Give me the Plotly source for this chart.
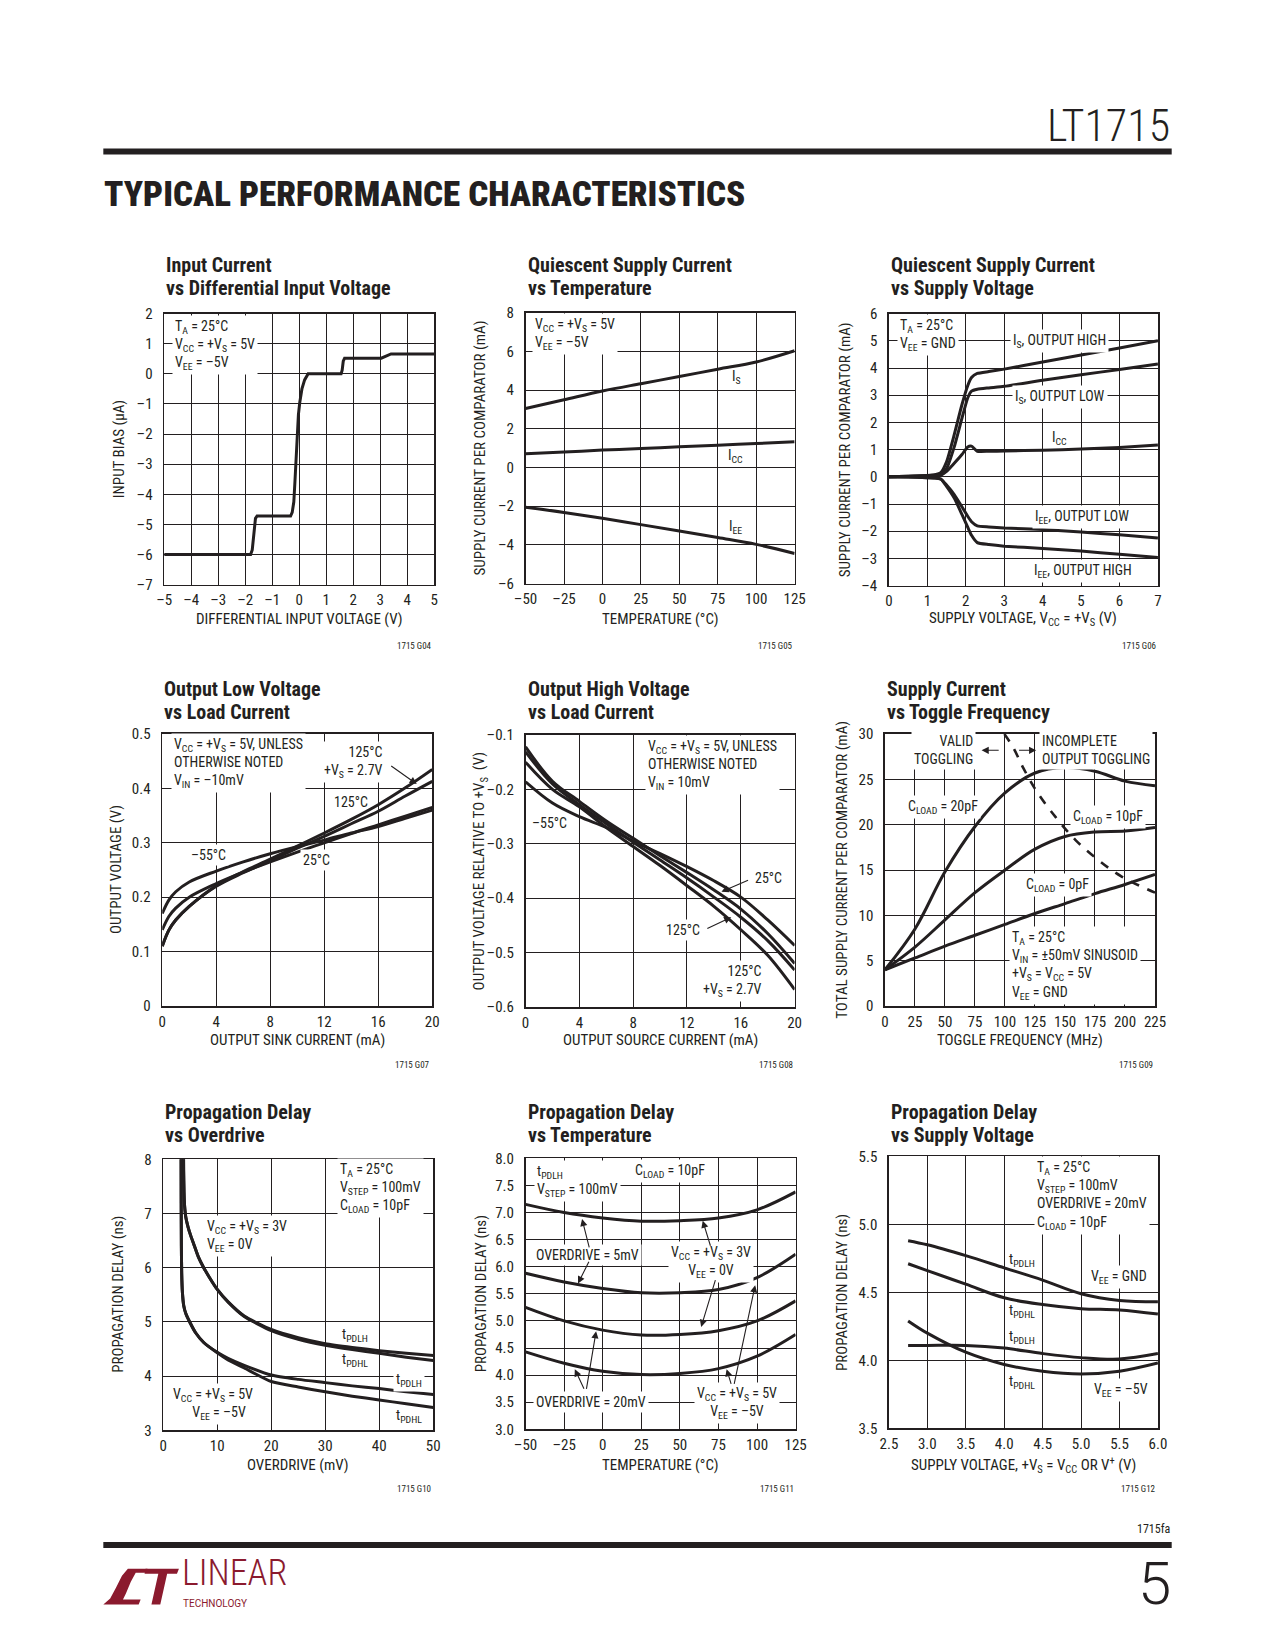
import plotly.graph_objects as go

W, H = 1275, 1650
F = "Roboto Condensed, Liberation Sans Narrow, Arial Narrow, Roboto, sans-serif"
FL = "Roboto, Lato, Liberation Sans, sans-serif"
INK = "#231f20"
RED = "#8b1a2e"

# ---------------- data ----------------
# G04 Input current vs differential input voltage
c1_vdiff = [-5, -1.8, -1.74, -1.68, -1.62, -1.56, -0.32, -0.26, -0.2, -0.16, -0.12, -0.08, -0.03, 0.02, 0.1, 0.2, 0.33,
            1.55, 1.59, 1.63, 1.68, 3.04, 3.2, 3.4, 5]
c1_ibias = [-6.0, -6.0, -5.85, -5.2, -4.8, -4.72, -4.72, -4.6, -4.25, -3.6, -2.8, -2.0, -1.35, -0.95, -0.5, -0.2, 0.0,
            0.0, 0.12, 0.42, 0.52, 0.52, 0.58, 0.66, 0.66]

# G05 Quiescent supply current vs temperature
c2_temp = [-50, -25, 0, 25, 50, 75, 100, 125]
c2_is = [3.05, 3.5, 3.95, 4.33, 4.7, 5.08, 5.45, 6.03]
c2_icc = [0.71, 0.8, 0.9, 0.98, 1.07, 1.15, 1.24, 1.33]
c2_iee = [-2.05, -2.32, -2.62, -2.95, -3.28, -3.62, -3.97, -4.44]

# G06 Quiescent supply current vs supply voltage
c3_vs = [0, 0.5, 1.0, 1.2, 1.35, 1.5, 1.7, 1.9, 2.05, 2.15, 2.3, 2.6, 3, 4, 5, 6, 7]
c3_is_high = [0, 0.02, 0.05, 0.08, 0.15, 0.55, 1.55, 2.65, 3.35, 3.65, 3.8, 3.87, 3.96, 4.22, 4.48, 4.74, 5.0]
c3_is_low = [0, 0.02, 0.05, 0.07, 0.1, 0.3, 1.1, 2.15, 2.9, 3.15, 3.22, 3.27, 3.33, 3.55, 3.75, 3.95, 4.15]
c3_icc = [0, 0.01, 0.03, 0.04, 0.06, 0.2, 0.5, 0.82, 1.1, 1.13, 0.94, 0.94, 0.95, 0.98, 1.02, 1.08, 1.17]
c3_iee_low = [0, -0.01, -0.03, -0.04, -0.08, -0.3, -0.65, -1.1, -1.45, -1.65, -1.8, -1.84, -1.88, -1.94, -2.03, -2.13, -2.25]
c3_iee_high = [0, -0.01, -0.03, -0.04, -0.08, -0.35, -0.78, -1.38, -1.85, -2.15, -2.42, -2.49, -2.55, -2.63, -2.73, -2.85, -2.97]

# G07 Output low voltage vs load current
c4_isink = [0, 0.5, 1, 2, 4, 6, 8, 10, 12, 14, 16, 18, 20]
c4_m55 = [0.17, 0.195, 0.21, 0.228, 0.248, 0.265, 0.28, 0.293, 0.305, 0.318, 0.33, 0.345, 0.36]
c4_25 = [0.14, 0.165, 0.18, 0.2, 0.225, 0.246, 0.265, 0.283, 0.3, 0.317, 0.333, 0.349, 0.365]
c4_125 = [0.11, 0.14, 0.158, 0.183, 0.22, 0.245, 0.267, 0.29, 0.312, 0.335, 0.358, 0.386, 0.413]
c4_125_27 = [0.11, 0.14, 0.158, 0.183, 0.221, 0.247, 0.27, 0.294, 0.318, 0.343, 0.37, 0.401, 0.435]

# G08 Output high voltage vs load current
c5_isrc = [0, 2, 4, 6, 8, 10, 12, 14, 16, 18, 20]
c5_m55 = [-0.186, -0.225, -0.25, -0.27, -0.295, -0.318, -0.342, -0.368, -0.398, -0.44, -0.487]
c5_25 = [-0.122, -0.185, -0.222, -0.258, -0.29, -0.322, -0.353, -0.385, -0.42, -0.465, -0.52]
c5_125 = [-0.131, -0.19, -0.228, -0.263, -0.297, -0.33, -0.363, -0.398, -0.435, -0.478, -0.532]
c5_125_27 = [-0.15, -0.2, -0.232, -0.27, -0.305, -0.34, -0.377, -0.415, -0.458, -0.505, -0.568]

# G09 Supply current vs toggle frequency
c6_freq = [0, 25, 50, 75, 100, 125, 150, 175, 200, 225]
c6_20pf = [4.0, 8.5, 14.8, 19.8, 23.5, 25.7, 26.3, 25.9, 24.8, 24.3]
c6_10pf = [4.0, 6.5, 9.5, 12.5, 15.0, 17.3, 18.7, 19.2, 19.3, 19.7]
c6_0pf = [4.0, 5.3, 6.6, 7.8, 9.0, 10.2, 11.3, 12.4, 13.4, 14.5]
c6_lim_freq = [99.5, 106.9, 115.1, 126, 142.4, 158.8, 177.8, 196.9, 225]
c6_lim_cur = [30, 28.5, 26.3, 23.75, 20.8, 18.3, 16.1, 14.3, 12.5]

# G10 Propagation delay vs overdrive
c7_od_3v = [3.74, 3.78, 3.85, 3.95, 4.2, 4.6, 5.0, 5.6, 6.5, 7.5, 8.5, 10, 12, 15, 20, 25, 30, 35, 40, 45, 50]
c7_lh_3v = [8.4, 7.8, 7.4, 7.15, 6.92, 6.75, 6.62, 6.45, 6.2, 6.0, 5.83, 5.6, 5.37, 5.11, 4.86, 4.71, 4.6, 4.53, 4.47, 4.42, 4.38]
c7_hl_3v = [8.4, 7.8, 7.4, 7.15, 6.92, 6.75, 6.62, 6.45, 6.2, 6.0, 5.83, 5.6, 5.37, 5.1, 4.84, 4.68, 4.57, 4.49, 4.42, 4.35, 4.29]
c7_od_5v = [3.3, 3.33, 3.36, 3.42, 3.55, 3.8, 4.2, 5.0, 6.0, 7.5, 10, 12, 15, 20, 25, 30, 35, 40, 45, 50]
c7_lh_5v = [8.4, 7.2, 6.4, 5.9, 5.55, 5.3, 5.15, 4.98, 4.8, 4.62, 4.44, 4.33, 4.2, 4.02, 3.94, 3.88, 3.82, 3.77, 3.71, 3.66]
c7_hl_5v = [8.4, 7.2, 6.4, 5.9, 5.55, 5.3, 5.15, 4.98, 4.8, 4.62, 4.43, 4.3, 4.15, 3.9, 3.8, 3.71, 3.63, 3.56, 3.49, 3.42]

# G11 Propagation delay vs temperature
c8_temp = [-50, -25, 0, 25, 50, 75, 100, 125]
c8_3v_5mv = [7.15, 7.0, 6.9, 6.84, 6.85, 6.9, 7.05, 7.38]
c8_5v_5mv = [5.88, 5.72, 5.6, 5.52, 5.52, 5.58, 5.8, 6.23]
c8_3v_20mv = [5.25, 5.0, 4.83, 4.74, 4.75, 4.82, 5.0, 5.37]
c8_5v_20mv = [4.43, 4.22, 4.07, 4.01, 4.03, 4.12, 4.35, 4.75]

# G12 Propagation delay vs supply voltage
c9_vs = [2.75, 3.0, 3.5, 4.0, 4.5, 5.0, 5.5, 6.0]
c9_gnd_lh = [4.88, 4.85, 4.77, 4.68, 4.59, 4.49, 4.44, 4.43]
c9_gnd_hl = [4.71, 4.66, 4.56, 4.46, 4.41, 4.38, 4.37, 4.34]
c9_m5_lh = [4.11, 4.11, 4.11, 4.09, 4.05, 4.02, 4.01, 4.05]
c9_m5_hl = [4.29, 4.2, 4.06, 3.97, 3.92, 3.9, 3.92, 3.98]


# tick values
def rng(a, b, s):
    out, v = [], a
    while v <= b + 1e-9:
        out.append(round(v, 6))
        v += s
    return out


def lab(vals, fmt):
    return [fmt.format(v).replace("-", "\u2013") for v in vals]


c1_xt = rng(-5, 5, 1); c1_yt = rng(-7, 2, 1)
c2_xt = rng(-50, 125, 25); c2_yt = rng(-6, 8, 2)
c3_xt = rng(0, 7, 1); c3_yt = rng(-4, 6, 1)
c4_xt = rng(0, 20, 4); c4_yt = rng(0, 0.5, 0.1)
c5_xt = rng(0, 20, 4); c5_yt = rng(-0.6, -0.1, 0.1)
c6_xt = rng(0, 225, 25); c6_yt = rng(0, 30, 5)
c7_xt = rng(0, 50, 10); c7_yt = rng(3, 8, 1)
c8_xt = rng(-50, 125, 25); c8_yt = rng(3, 8, 0.5)
c9_xt = rng(2.5, 6.0, 0.5); c9_yt = rng(3.5, 5.5, 0.5)

# ---------------- layout helpers ----------------
boxes = {1: (155, 308, 430, 582), 2: (523, 307, 797, 581), 3: (893, 308, 1167, 583),
         4: (153, 733, 428, 1008), 5: (523, 734, 797, 1009), 6: (889, 733, 1164, 1008),
         7: (154, 1163, 429, 1437), 8: (523, 1162, 798, 1436), 9: (893, 1160, 1167, 1435)}

axes_spec = {
    1: (c1_xt, lab(c1_xt, "{:g}"), c1_yt, lab(c1_yt, "{:g}")),
    2: (c2_xt, lab(c2_xt, "{:g}"), c2_yt, lab(c2_yt, "{:g}")),
    3: (c3_xt, lab(c3_xt, "{:g}"), c3_yt, lab(c3_yt, "{:g}")),
    4: (c4_xt, lab(c4_xt, "{:g}"), c4_yt, lab(c4_yt, "{:g}")),
    5: (c5_xt, lab(c5_xt, "{:g}"), c5_yt, lab(c5_yt, "{:.1f}")),
    6: (c6_xt, lab(c6_xt, "{:g}"), c6_yt, lab(c6_yt, "{:g}")),
    7: (c7_xt, lab(c7_xt, "{:g}"), c7_yt, lab(c7_yt, "{:g}")),
    8: (c8_xt, lab(c8_xt, "{:g}"), c8_yt, lab(c8_yt, "{:.1f}")),
    9: (c9_xt, lab(c9_xt, "{:.1f}"), c9_yt, lab(c9_yt, "{:.1f}")),
}

titles = {1: ("Input Current", "vs Differential Input Voltage"),
          2: ("Quiescent Supply Current", "vs Temperature"),
          3: ("Quiescent Supply Current", "vs Supply Voltage"),
          4: ("Output Low Voltage", "vs Load Current"),
          5: ("Output High Voltage", "vs Load Current"),
          6: ("Supply Current", "vs Toggle Frequency"),
          7: ("Propagation Delay", "vs Overdrive"),
          8: ("Propagation Delay", "vs Temperature"),
          9: ("Propagation Delay", "vs Supply Voltage")}

xtitles = {1: "DIFFERENTIAL INPUT VOLTAGE (V)", 2: "TEMPERATURE (°C)",
           3: "SUPPLY VOLTAGE, V<sub>CC</sub> = +V<sub>S</sub> (V)",
           4: "OUTPUT SINK CURRENT (mA)", 5: "OUTPUT SOURCE CURRENT (mA)",
           6: "TOGGLE FREQUENCY (MHz)", 7: "OVERDRIVE (mV)", 8: "TEMPERATURE (°C)",
           9: "SUPPLY VOLTAGE, +V<sub>S</sub> = V<sub>CC</sub> OR V<sup>+</sup> (V)"}
ytitles = {1: "INPUT BIAS (μA)", 2: "SUPPLY CURRENT PER COMPARATOR (mA)",
           3: "SUPPLY CURRENT PER COMPARATOR (mA)", 4: "OUTPUT VOLTAGE (V)",
           5: "OUTPUT VOLTAGE RELATIVE TO +V<sub>S</sub>  (V)",
           6: "TOTAL SUPPLY CURRENT PER COMPARATOR (mA)",
           7: "PROPAGATION DELAY (ns)", 8: "PROPAGATION DELAY (ns)", 9: "PROPAGATION DELAY (ns)"}
ytitle_x = {1: 109, 2: 477, 3: 848, 4: 106, 5: 477, 6: 845, 7: 108, 8: 477, 9: 846}
row_of = {1: 0, 2: 0, 3: 0, 4: 1, 5: 1, 6: 1, 7: 2, 8: 2, 9: 2}
title_y = [(259, 282), (688, 711), (1115, 1138)]
xtitle_y = [617, 1042, 1472]
id_y = [644, 1068, 1496]

fig = go.Figure()
annotations = []
shapes = []


def px(x):
    return x / W


def py(y):
    return 1 - y / H


def ax_names(i):
    return ("x" if i == 1 else f"x{i}"), ("y" if i == 1 else f"y{i}")


for i, (l, t, r, b) in boxes.items():
    xt, xl, yt, yl = axes_spec[i]
    xa, ya = ax_names(i)
    common = dict(showgrid=True, gridcolor=INK, gridwidth=1, showline=True, mirror=True,
                  linecolor=INK, linewidth=1.6, zeroline=False, ticks="",
                  tickfont=dict(family=F, size=15, color=INK))
    fig.layout[("xaxis" if i == 1 else f"xaxis{i}")] = dict(
        domain=[px(l), px(r)], range=[xt[0], xt[-1]], tickvals=xt, ticktext=xl, anchor=ya,
        ticklabelstandoff=1, **common)
    fig.layout[("yaxis" if i == 1 else f"yaxis{i}")] = dict(
        domain=[py(b), py(t)], range=[yt[0], yt[-1]], tickvals=yt, ticktext=yl, anchor=xa,
        ticklabelstandoff=7, **common)
    ty1, ty2 = title_y[row_of[i]]
    for line_txt, yy in ((titles[i][0], ty1), (titles[i][1], ty2)):
        annotations.append(dict(text=line_txt, x=px(l), y=py(yy), xref="paper", yref="paper",
                                xanchor="left", yanchor="middle", showarrow=False,
                                font=dict(family=F, size=20, color=INK, weight="bold")))
    annotations.append(dict(text=xtitles[i], x=px((l + r) / 2), y=py(xtitle_y[row_of[i]]),
                            xref="paper", yref="paper", xanchor="center", yanchor="middle",
                            showarrow=False, font=dict(family=F, size=15, color=INK)))
    annotations.append(dict(text=ytitles[i], x=px(ytitle_x[i]), y=py((t + b) / 2),
                            xref="paper", yref="paper", xanchor="center", yanchor="middle",
                            textangle=-90, showarrow=False, font=dict(family=F, size=15, color=INK)))
    annotations.append(dict(text=f"1715 G{i + 3:02d}", x=px(r), y=py(id_y[row_of[i]]),
                            xref="paper", yref="paper", xanchor="right", yanchor="middle",
                            showarrow=False, font=dict(family=F, size=9, color=INK)))


def line(i, x, y, shape="spline", dash="solid", width=3, smoothing=1.0):
    xa, ya = ax_names(i)
    ln = dict(color=INK, width=width, dash=dash, shape=shape)
    if shape == "spline":
        ln["smoothing"] = smoothing
    fig.add_trace(go.Scatter(x=x, y=y, mode="lines", xaxis=xa, yaxis=ya, line=ln,
                             showlegend=False, hoverinfo="skip"))


def txt(i, x, y, text, xanchor="left", align=None, bg=True, size=14):
    xa, ya = ax_names(i)
    annotations.append(dict(text=text, x=x, y=y, xref=xa, yref=ya, xanchor=xanchor,
                            yanchor="middle", align=align or xanchor if xanchor != "center" else "center",
                            showarrow=False,
                            bgcolor="white" if bg else "rgba(0,0,0,0)", borderpad=2,
                            font=dict(family=F, size=size, color=INK)))


def arrow(i, x0, y0, x1, y1):
    xa, ya = ax_names(i)
    annotations.append(dict(text="", x=x1, y=y1, ax=x0, ay=y0, xref=xa, yref=ya,
                            axref=xa, ayref=ya, showarrow=True, arrowhead=2, arrowsize=1.3,
                            arrowwidth=1.1, arrowcolor=INK, standoff=0))


# ---- chart 1
line(1, c1_vdiff, c1_ibias, shape="linear")
txt(1, -4.72, 0.95, "T<sub>A</sub> = 25°C<br>V<sub>CC</sub> = +V<sub>S</sub> = 5V<br>V<sub>EE</sub> = \u20135V")

# ---- chart 2
line(2, c2_temp, c2_is)
line(2, c2_temp, c2_icc)
line(2, c2_temp, c2_iee)
txt(2, -45.5, 6.9, "V<sub>CC</sub> = +V<sub>S</sub> = 5V<br>V<sub>EE</sub> = \u20135V")
txt(2, 87.5, 4.7, "I<sub>S</sub>", xanchor="center", bg=False)
txt(2, 86.5, 0.6, "I<sub>CC</sub>", xanchor="center", bg=False)
txt(2, 86.5, -3.05, "I<sub>EE</sub>", xanchor="center", bg=False)

# ---- chart 3
for ys in (c3_is_high, c3_is_low, c3_icc, c3_iee_low, c3_iee_high):
    line(3, c3_vs, ys, smoothing=0.5)
txt(3, 0.2, 5.2, "T<sub>A</sub> = 25°C<br>V<sub>EE</sub> = GND")
txt(3, 4.45, 5.0, "I<sub>S</sub>, OUTPUT HIGH", xanchor="center")
txt(3, 4.45, 2.95, "I<sub>S</sub>, OUTPUT LOW", xanchor="center")
txt(3, 4.45, 1.42, "I<sub>CC</sub>", xanchor="center", bg=False)
txt(3, 5.03, -1.47, "I<sub>EE</sub>, OUTPUT LOW", xanchor="center")
txt(3, 5.05, -3.45, "I<sub>EE</sub>, OUTPUT HIGH", xanchor="center")

# ---- chart 4
for ys in (c4_m55, c4_25, c4_125, c4_125_27):
    line(4, c4_isink, ys)
txt(4, 0.65, 0.446, "V<sub>CC</sub> = +V<sub>S</sub> = 5V, UNLESS<br>OTHERWISE NOTED<br>V<sub>IN</sub> = \u201310mV")
txt(4, 16.55, 0.449, "125°C<br>+V<sub>S</sub> = 2.7V", xanchor="right")
arrow(4, 16.85, 0.443, 18.85, 0.408)
txt(4, 14.0, 0.375, "125°C", xanchor="center", bg=False)
txt(4, 3.4, 0.277, "\u201355°C", xanchor="center")
txt(4, 11.45, 0.269, "25°C", xanchor="center")

# ---- chart 5
for ys in (c5_m55, c5_25, c5_125, c5_125_27):
    line(5, c5_isrc, ys)
txt(5, 8.9, -0.155, "V<sub>CC</sub> = +V<sub>S</sub> = 5V, UNLESS<br>OTHERWISE NOTED<br>V<sub>IN</sub> = 10mV")
txt(5, 1.75, -0.262, "\u201355°C", xanchor="center", bg=False)
txt(5, 16.85, -0.362, "25°C", bg=False)
arrow(5, 16.65, -0.366, 14.56, -0.388)
txt(5, 13.2, -0.459, "125°C", xanchor="right")
arrow(5, 13.4, -0.457, 15.29, -0.435)
txt(5, 17.8, -0.552, "125°C<br>+V<sub>S</sub> = 2.7V", xanchor="right")

# ---- chart 6
line(6, c6_freq, c6_20pf)
line(6, c6_freq, c6_10pf)
line(6, c6_freq, c6_0pf)
line(6, c6_lim_freq, c6_lim_cur, dash="dash", width=2.6)
txt(6, 75.5, 28.2, "VALID<br>TOGGLING", xanchor="right")
txt(6, 128.5, 28.2, "INCOMPLETE<br>OUTPUT TOGGLING")
arrow(6, 96, 28.2, 80.5, 28.2)
arrow(6, 110.5, 28.2, 126, 28.2)
txt(6, 48.3, 21.9, "C<sub>LOAD</sub> = 20pF", xanchor="center")
txt(6, 186, 20.8, "C<sub>LOAD</sub> = 10pF", xanchor="center")
txt(6, 143.7, 13.4, "C<sub>LOAD</sub> = 0pF", xanchor="center")
txt(6, 103.6, 4.45, "T<sub>A</sub> = 25°C<br>V<sub>IN</sub> = ±50mV SINUSOID<br>+V<sub>S</sub> = V<sub>CC</sub> = 5V<br>V<sub>EE</sub> = GND")

# ---- chart 7
line(7, c7_od_3v, c7_lh_3v, smoothing=0.6)
line(7, c7_od_3v, c7_hl_3v, smoothing=0.6)
line(7, c7_od_5v, c7_lh_5v, smoothing=0.6)
line(7, c7_od_5v, c7_hl_5v, smoothing=0.6)
txt(7, 32.1, 7.47, "T<sub>A</sub> = 25°C<br>V<sub>STEP</sub> = 100mV<br>C<sub>LOAD</sub> = 10pF")
txt(7, 7.6, 6.59, "V<sub>CC</sub> = +V<sub>S</sub> = 3V<br>V<sub>EE</sub> = 0V")
txt(7, 32.5, 4.75, "t<sub>PDLH</sub>", bg=False)
txt(7, 32.5, 4.29, "t<sub>PDHL</sub>", bg=False)
txt(7, 42.5, 3.92, "t<sub>PDLH</sub>")
txt(7, 42.5, 3.26, "t<sub>PDHL</sub>", bg=False)
txt(7, 1.3, 3.49, "V<sub>CC</sub> = +V<sub>S</sub> = 5V<br>      V<sub>EE</sub> = \u20135V")

# ---- chart 8
for ys in (c8_3v_5mv, c8_5v_5mv, c8_3v_20mv, c8_5v_20mv):
    line(8, c8_temp, ys)
txt(8, -44.3, 7.59, "t<sub>PDLH</sub><br>V<sub>STEP</sub> = 100mV")
txt(8, 19.1, 7.76, "C<sub>LOAD</sub> = 10pF")
txt(8, -9.6, 6.22, "OVERDRIVE = 5mV", xanchor="center")
txt(8, 70.1, 6.08, "V<sub>CC</sub> = +V<sub>S</sub> = 3V<br>V<sub>EE</sub> = 0V", xanchor="center")
txt(8, -7.5, 3.5, "OVERDRIVE = 20mV", xanchor="center")
txt(8, 87.1, 3.49, "V<sub>CC</sub> = +V<sub>S</sub> = 5V<br>V<sub>EE</sub> = \u20135V", xanchor="center")
arrow(8, -8.5, 6.33, -13.4, 6.88)
arrow(8, -8.5, 6.12, -16.0, 5.69)
arrow(8, 70.1, 6.36, 64.8, 6.85)
arrow(8, 73.3, 5.78, 63.8, 4.89)
arrow(8, -11.7, 3.72, -18.1, 4.11)
arrow(8, -10.7, 3.72, -4.3, 4.81)
arrow(8, 83.5, 3.81, 80.3, 4.11)
arrow(8, 85.0, 3.81, 98.8, 5.66)

# ---- chart 9
for ys in (c9_gnd_lh, c9_gnd_hl, c9_m5_lh, c9_m5_hl):
    line(9, c9_vs, ys)
txt(9, 4.39, 5.21, "T<sub>A</sub> = 25°C<br>V<sub>STEP</sub> = 100mV<br>OVERDRIVE = 20mV<br>C<sub>LOAD</sub> = 10pF")
txt(9, 4.02, 4.74, "t<sub>PDLH</sub>", bg=False)
txt(9, 5.09, 4.61, "V<sub>EE</sub> = GND")
txt(9, 4.02, 4.36, "t<sub>PDHL</sub>", bg=False)
txt(9, 4.02, 4.17, "t<sub>PDLH</sub>", bg=False)
txt(9, 4.02, 3.84, "t<sub>PDHL</sub>", bg=False)
txt(9, 5.13, 3.78, "V<sub>EE</sub> = \u20135V")


# ---------------- page furniture ----------------
def rect(x0, y0, x1, y1, color):
    shapes.append(dict(type="rect", xref="paper", yref="paper", x0=px(x0), x1=px(x1),
                       y0=py(y1), y1=py(y0), fillcolor=color, line=dict(width=0)))


def poly(points, color):
    d = "M " + " L ".join(f"{px(x):.5f},{py(y):.5f}" for x, y in points) + " Z"
    shapes.append(dict(type="path", xref="paper", yref="paper", path=d, fillcolor=color,
                       line=dict(width=0)))


rect(93, 141, 1181, 147, INK)
rect(93, 1550, 1181, 1556, INK)

annotations.append(dict(text="LT1715", x=px(1181), y=py(118), xref="paper", yref="paper",
                        xanchor="right", yanchor="middle", showarrow=False,
                        font=dict(family=F, size=44, color=INK, weight=300)))
annotations.append(dict(text="TYPICAL PERFORMANCE CHARACTERISTICS", x=px(92), y=py(188),
                        xref="paper", yref="paper", xanchor="left", yanchor="middle",
                        showarrow=False, font=dict(family=F, size=35, color=INK, weight=900)))
annotations.append(dict(text="1715fa", x=px(1181), y=py(1537), xref="paper", yref="paper",
                        xanchor="right", yanchor="middle", showarrow=False,
                        font=dict(family=F, size=12, color=INK)))
annotations.append(dict(text="5", x=px(1182), y=py(1592), xref="paper", yref="paper",
                        xanchor="right", yanchor="middle", showarrow=False,
                        font=dict(family=FL, size=60, color=INK, weight=300)))

# Linear Technology logo mark
poly([(93, 1613), (100, 1607), (106, 1596), (112, 1584), (118, 1577), (138, 1577), (136, 1581),
      (126, 1581), (121, 1590), (116, 1602), (113, 1608), (131, 1608), (129, 1613)], RED)
poly([(136, 1577), (170, 1577), (168, 1582), (158, 1582), (151, 1613), (142, 1613), (149, 1582),
      (135, 1582)], RED)
annotations.append(dict(text="LINEAR", x=px(171), y=py(1605), xref="paper", yref="paper",
                        xanchor="left", yanchor="bottom", showarrow=False,
                        font=dict(family=F, size=36, color=RED, weight=300)))
annotations.append(dict(text="TECHNOLOGY", x=px(172), y=py(1604), xref="paper", yref="paper",
                        xanchor="left", yanchor="top", showarrow=False,
                        font=dict(family=FL, size=10, color=RED)))

fig.update_layout(width=W, height=H, margin=dict(l=0, r=0, t=0, b=0),
                  paper_bgcolor="white", plot_bgcolor="white", showlegend=False,
                  annotations=annotations, shapes=shapes, font=dict(family=F, color=INK))
fig.write_html("out.html", config={"displayModeBar": False, "staticPlot": True},
               post_script="document.documentElement.style.margin='0';"
                           "document.body.style.margin='0';"
                           "document.body.style.overflow='hidden';")
